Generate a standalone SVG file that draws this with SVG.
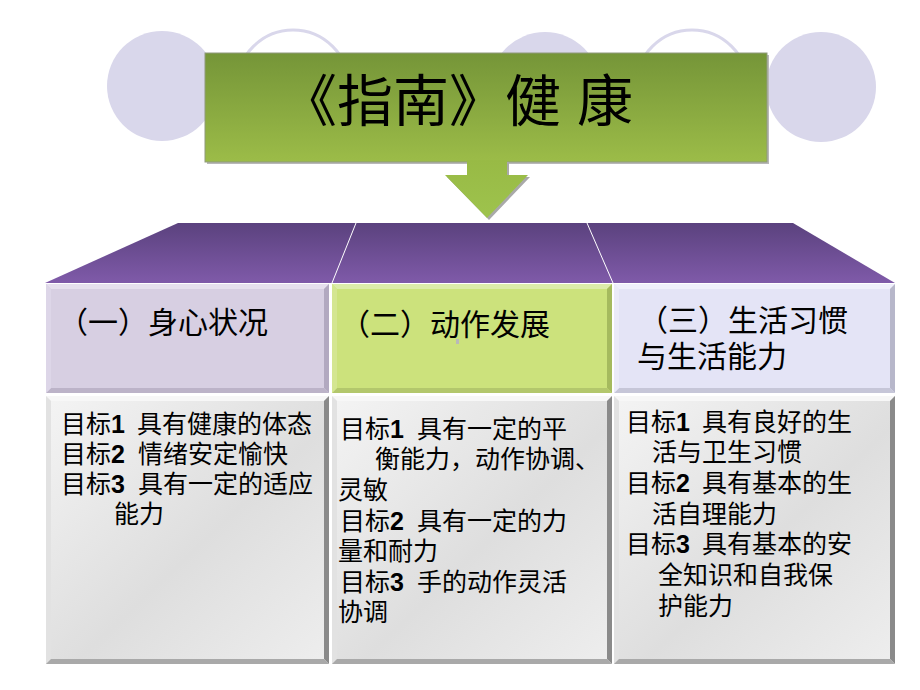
<svg xmlns="http://www.w3.org/2000/svg" width="920" height="690" viewBox="0 0 920 690">
<defs>
<linearGradient id="gGreen" x1="0" y1="0" x2="0" y2="1"><stop offset="0" stop-color="#759538"/><stop offset="1" stop-color="#9cbc48"/></linearGradient>
<linearGradient id="gArrow" x1="0" y1="0" x2="0" y2="1"><stop offset="0" stop-color="#98ba45"/><stop offset="1" stop-color="#9ec34d"/></linearGradient>
<linearGradient id="gPurple" x1="0" y1="0" x2="0" y2="1"><stop offset="0" stop-color="#5b427e"/><stop offset="1" stop-color="#7f5aa9"/></linearGradient>
<linearGradient id="gGray" x1="0" y1="0" x2="1" y2="1"><stop offset="0" stop-color="#f4f4f4"/><stop offset="0.55" stop-color="#dedede"/><stop offset="1" stop-color="#eeeeee"/></linearGradient>
</defs>
<style>
.circ{fill:#d9d7eb}
.ring{fill:#ffffff;stroke:#d9d7eb;stroke-width:3}
.cjk{font-family:"Liberation Sans","Noto Sans CJK SC",sans-serif;fill:#000}
.hd{font-size:30px}
.bd{font-size:25px}
.num{font-family:"Liberation Sans",sans-serif;font-weight:bold}
.light{fill:#f7f7f7}.dark{fill:#8a8a8a}.mid{fill:#a9a9a9}.lft{fill:#e2e2e2}
</style>
<g id="circles">
<circle class="circ" cx="162" cy="86" r="55"/>
<circle class="ring" cx="293" cy="86" r="56"/>
<circle class="circ" cx="545" cy="87" r="55"/>
<circle class="ring" cx="692" cy="86" r="56"/>
<circle class="circ" cx="821" cy="87" r="55"/>
</g>
<g id="title">
<rect x="207" y="55" width="562" height="109" fill="#b8b8b8"/>
<rect x="205" y="53" width="562" height="109" fill="url(#gGreen)" stroke="#8f9a7c" stroke-width="1"/>
<text class="cjk" x="281" y="121" font-size="56">《指南》健<tspan dx="16">康</tspan></text>
</g>
<g id="connectors">
<polygon points="469,162 509,162 509,177 530,177 489,220 447,177 469,177" fill="#a9a9a9"/>
<polygon points="467,160 507,160 507,175 528,175 487,218 445,175 467,175" fill="url(#gArrow)"/>
</g>
<g id="roof">
<polygon points="178,223 793,223 895,283 45,283" fill="url(#gPurple)"/>
<line x1="356" y1="223" x2="332" y2="283" stroke="#ffffff" stroke-width="1"/>
<line x1="587" y1="223" x2="613" y2="283" stroke="#ffffff" stroke-width="1"/>
</g>
<g id="head1">
<rect x="46" y="284" width="283" height="109" fill="#d7cfe2"/>
<polygon points="46,284 329,284 324,289 51,289" fill="#e6e0ee"/>
<polygon points="329,284 329,393 324,388 324,289" fill="#b2a9c0"/>
<polygon points="46,393 329,393 324,388 51,388" fill="#bcb3c8"/>
<polygon points="46,284 51,289 51,388 46,393" fill="#ddd6e8"/>
<text class="cjk hd" x="58" y="333">（一）身心状况</text>
</g>
<g id="head2">
<rect x="332" y="284" width="280" height="109" fill="#cce27c"/>
<polygon points="332,284 612,284 607,289 337,289" fill="#dcebaa"/>
<polygon points="612,284 612,393 607,388 607,289" fill="#a5ba5e"/>
<polygon points="332,393 612,393 607,388 337,388" fill="#b3c76c"/>
<polygon points="332,284 337,289 337,388 332,393" fill="#d4e691"/>
<text class="cjk hd" x="340" y="335">（二）动作发展</text>
<rect x="456" y="339" width="3" height="5" fill="#b9b9b9"/>
</g>
<g id="head3">
<rect x="614" y="284" width="281" height="109" fill="#e4e4f6"/>
<polygon points="614,284 895,284 890,289 619,289" fill="#efeffb"/>
<polygon points="895,284 895,393 890,388 890,289" fill="#b7b7ca"/>
<polygon points="614,393 895,393 890,388 619,388" fill="#c6c6d8"/>
<polygon points="614,284 619,289 619,388 614,393" fill="#ebebf8"/>
<text class="cjk hd"><tspan x="638" y="331">（三）生活习惯</tspan><tspan x="637" y="367">与生活能力</tspan></text>
</g>
<g id="body1">
<rect x="46" y="396" width="283" height="268" fill="url(#gGray)"/>
<polygon class="light" points="46,396 329,396 324,401 51,401"/>
<polygon class="lft" points="46,396 51,401 51,659 46,664"/>
<polygon class="dark" points="329,396 329,664 324,659 324,401"/>
<polygon class="mid" points="46,664 329,664 324,659 51,659"/>
<text class="cjk bd"><tspan x="61" y="433">目标</tspan><tspan class="num">1</tspan><tspan x="137">具有健康的体态</tspan><tspan x="61" y="463">目标</tspan><tspan class="num">2</tspan><tspan x="138">情绪安定愉快</tspan><tspan x="61" y="493">目标</tspan><tspan class="num">3</tspan><tspan x="138">具有一定的适应</tspan><tspan x="114" y="523">能力</tspan></text>
</g>
<g id="body2">
<rect x="332" y="396" width="280" height="268" fill="url(#gGray)"/>
<polygon class="light" points="332,396 612,396 607,401 337,401"/>
<polygon class="lft" points="332,396 337,401 337,659 332,664"/>
<polygon class="dark" points="612,396 612,664 607,659 607,401"/>
<polygon class="mid" points="332,664 612,664 607,659 337,659"/>
<text class="cjk bd"><tspan x="340" y="438">目标</tspan><tspan class="num">1</tspan><tspan x="417">具有一定的平</tspan><tspan x="375" y="468">衡能力，动作协调、</tspan><tspan x="338" y="499">灵敏</tspan><tspan x="340" y="530">目标</tspan><tspan class="num">2</tspan><tspan x="417">具有一定的力</tspan><tspan x="338" y="560">量和耐力</tspan><tspan x="340" y="591">目标</tspan><tspan class="num">3</tspan><tspan x="417">手的动作灵活</tspan><tspan x="338" y="621">协调</tspan></text>
</g>
<g id="body3">
<rect x="614" y="396" width="281" height="268" fill="url(#gGray)"/>
<polygon class="light" points="614,396 895,396 890,401 619,401"/>
<polygon class="lft" points="614,396 619,401 619,659 614,664"/>
<polygon class="dark" points="895,396 895,664 890,659 890,401"/>
<polygon class="mid" points="614,664 895,664 890,659 619,659"/>
<text class="cjk bd"><tspan x="626" y="431">目标</tspan><tspan class="num">1</tspan><tspan x="702">具有良好的生</tspan><tspan x="652" y="461">活与卫生习惯</tspan><tspan x="626" y="492">目标</tspan><tspan class="num">2</tspan><tspan x="702">具有基本的生</tspan><tspan x="652" y="523">活自理能力</tspan><tspan x="626" y="553">目标</tspan><tspan class="num">3</tspan><tspan x="702">具有基本的安</tspan><tspan x="658" y="584">全知识和自我保</tspan><tspan x="658" y="615">护能力</tspan></text>
</g>
</svg>
